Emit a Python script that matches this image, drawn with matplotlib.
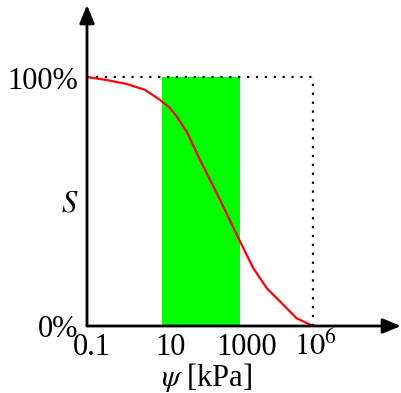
import matplotlib
matplotlib.use("Agg")
import matplotlib.pyplot as plt

plt.rcParams['font.family'] = ['Liberation Serif', 'DejaVu Serif']
plt.rcParams['mathtext.fontset'] = 'stix'

# schematic axis: position along the suction axis (not a true log scale)
curve_x = [0, 0.6, 1.23, 1.8, 2.26, 2.55, 2.78, 3.09, 3.50, 4.02, 4.74, 5.15, 5.57, 5.98, 6.49, 7.0]
curve_s = [100, 98.8, 97.2, 94.8, 90.8, 87.8, 84.1, 78.0, 66.7, 53.3, 33.9, 23.2, 15.1, 9.8, 3.1, 0]
tick_pos = [0.15, 2.6, 4.93, 7.06]
tick_labels = ['0.1', '10', '1000', r'$10^6$']
band = (2.32, 4.74)
x_end = 7.0
x_max, y_max = 9.72, 128.9

fig = plt.figure(figsize=(4.02, 3.93), dpi=100)
ax = fig.add_axes([87/402, 67/393, 314/402, 321/393])
ax.set_xlim(0, x_max)
ax.set_ylim(0, y_max)
for s in ax.spines.values():
    s.set_visible(False)
ax.set_xticks([])
ax.set_yticks([])

# green band
ax.fill_between(band, 0, 100, color='#00ff00', lw=0, zorder=1)

# dotted box
ax.plot([0, x_end], [100, 100], ls=(0, (1, 3)), color='black', lw=1.6, zorder=2)
ax.plot([x_end, x_end], [0, 100], ls=(0, (1, 3)), color='black', lw=1.6, zorder=2)

# retention curve
ax.plot(curve_x, curve_s, color='red', lw=1.6, zorder=3)

# axes with arrows
arrow = dict(arrowstyle='-|>,head_length=1.1,head_width=0.45', color='black', lw=2, shrinkA=0, shrinkB=0)
ax.annotate('', xy=(x_max, 0), xytext=(0, 0), arrowprops=arrow, annotation_clip=False, zorder=4)
ax.annotate('', xy=(0, y_max), xytext=(0, 0), arrowprops=arrow, annotation_clip=False, zorder=4)

fs = 22
for p, lab in zip(tick_pos, tick_labels):
    ax.text(p, -11.6, lab, ha='center', va='baseline', fontsize=fs)
ax.text(-0.28, 95.2, '100%', ha='right', va='baseline', fontsize=fs)
ax.text(-0.28, -4.4, '0%', ha='right', va='baseline', fontsize=fs)
ax.text(-0.53, 49, '$S$', ha='center', va='center', fontsize=fs)
ax.text(3.7, -24.0, r'$\psi$ [kPa]', ha='center', va='baseline', fontsize=fs)

fig.savefig('out.png', dpi=100)
